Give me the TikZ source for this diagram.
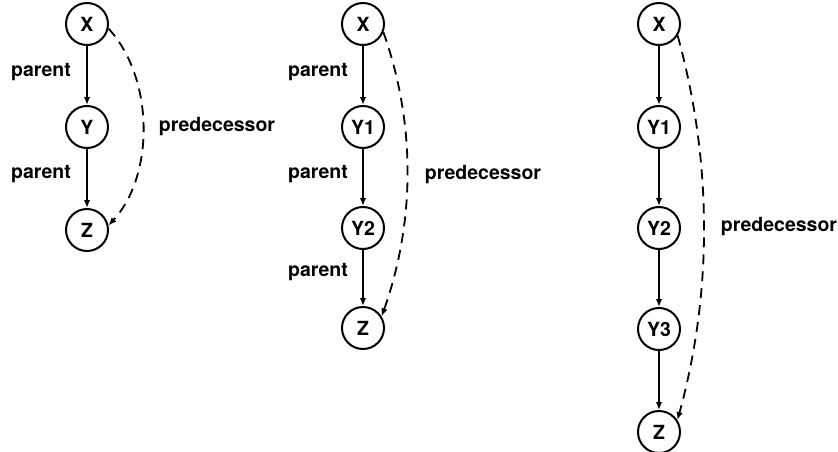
\documentclass[tikz,border=0pt]{standalone}
\usepackage{fontspec}
\setmainfont{TeX Gyre Heros}
\usetikzlibrary{arrows.meta}
\begin{document}
\begin{tikzpicture}[x=1pt,y=-1pt,
  vnode/.style={circle,draw,line width=2pt,minimum size=42pt,inner sep=0pt,
    font=\fontsize{19.5}{22}\selectfont\bfseries},
  lbl/.style={font=\fontsize{19.5}{22}\selectfont\bfseries,inner sep=0pt},
  edge/.style={line width=2pt,-{Latex[length=8pt,width=6.5pt]}},
  pred/.style={line width=1.8pt,dash pattern=on 10pt off 7pt,-{Latex[length=8pt,width=6.5pt]}}]
\useasboundingbox (0,0) rectangle (838,452);
% diagram 1
\node[vnode] (a1) at (87,24) {X};
\node[vnode] (a2) at (87,127) {Y};
\node[vnode] (a3) at (87,230) {Z};
\draw[edge] (a1) -- (a2);
\draw[edge] (a2) -- (a3);
\node[lbl] (ap1) at (41,72) {parent};
\node[lbl] (ap2) at (41,174) {parent};
\draw[pred] (a1.-12) .. controls +(46,50) and +(46,-50) .. (a3.12);
\node[lbl] (apr) at (217,127) {predecessor};
% diagram 2
\node[vnode] (b1) at (363,24) {X};
\node[vnode] (b2) at (363,127) {Y1};
\node[vnode] (b3) at (363,228) {Y2};
\node[vnode] (b4) at (363,328) {Z};
\draw[edge] (b1) -- (b2);
\draw[edge] (b2) -- (b3);
\draw[edge] (b3) -- (b4);
\node[lbl] (bp1) at (318,72) {parent};
\node[lbl] (bp2) at (318,174) {parent};
\node[lbl] (bp3) at (318,272) {parent};
\draw[pred] (b1.-22) .. controls +(33,93) and +(33,-93) .. (b4.32);
\node[lbl] (bpr) at (483,175) {predecessor};
% diagram 3
\node[vnode] (c1) at (659,24) {X};
\node[vnode] (c2) at (659,127) {Y1};
\node[vnode] (c3) at (659,228) {Y2};
\node[vnode] (c4) at (659,329) {Y3};
\node[vnode] (c5) at (659,432) {Z};
\draw[edge] (c1) -- (c2);
\draw[edge] (c2) -- (c3);
\draw[edge] (c3) -- (c4);
\draw[edge] (c4) -- (c5);
\draw[pred] (c1.-32) .. controls +(35,127) and +(35,-127) .. (c5.33);
\node[lbl] (cpr) at (779,227) {predecessor};
\end{tikzpicture}
\end{document}
